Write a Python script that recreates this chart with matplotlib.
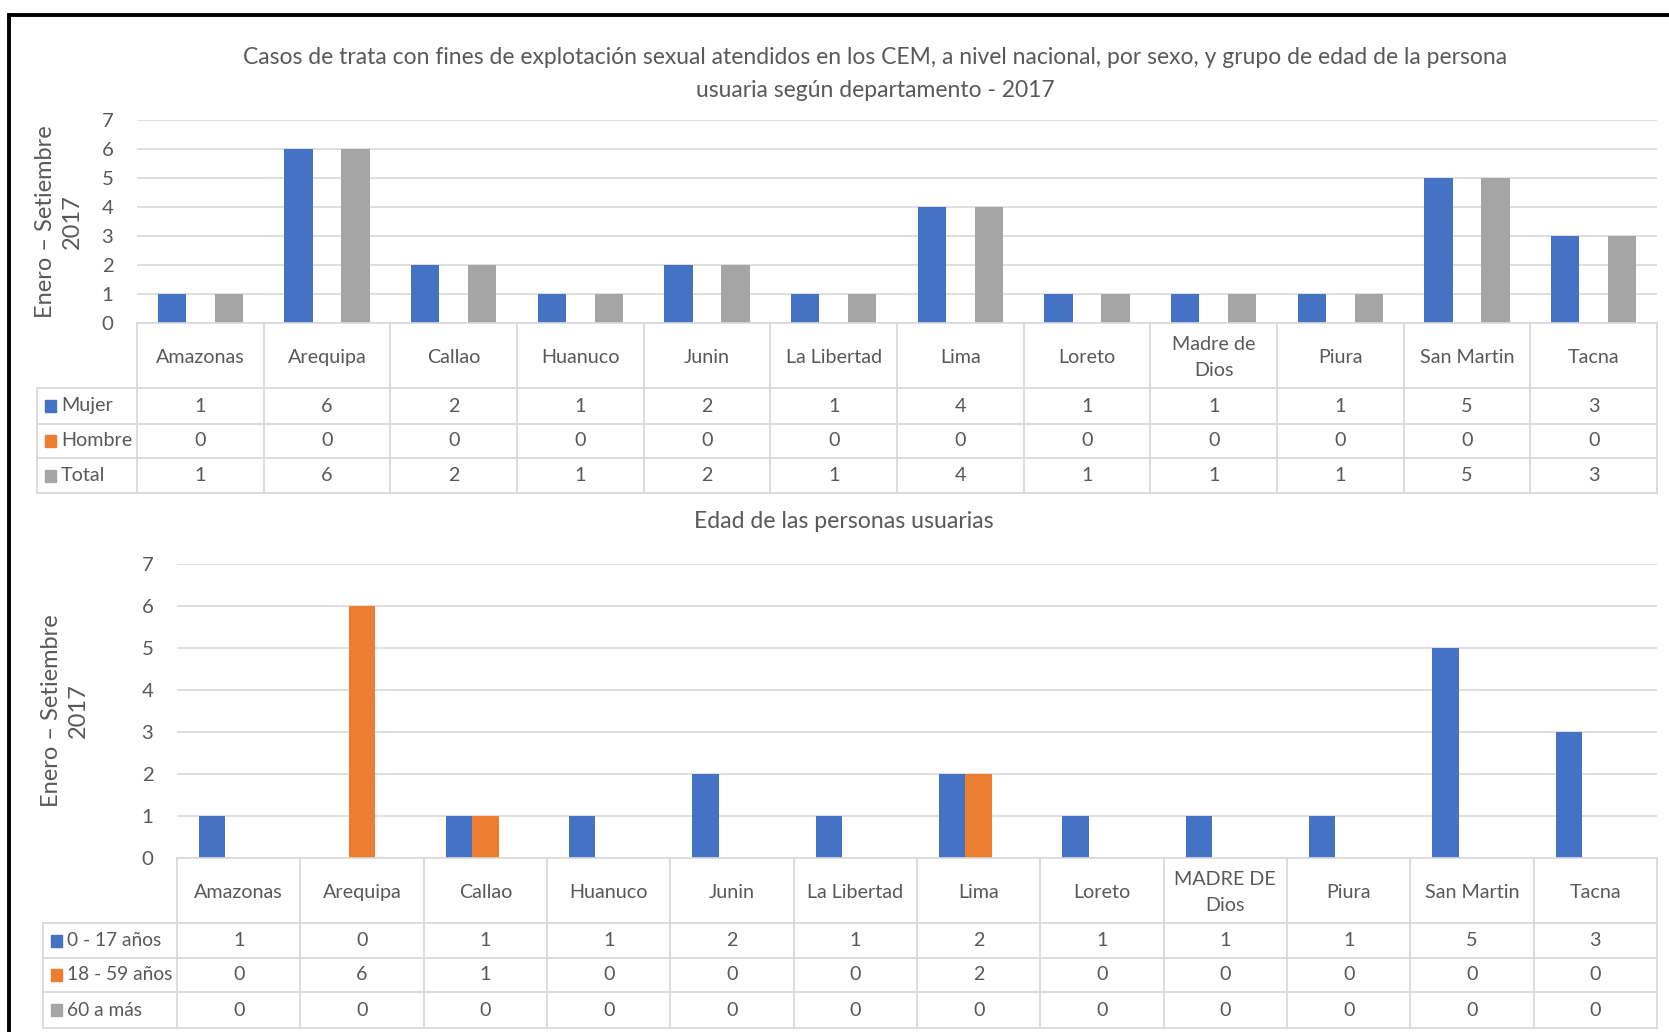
import matplotlib
matplotlib.use("Agg")
import matplotlib.pyplot as plt
from matplotlib.lines import Line2D
from matplotlib.patches import Rectangle
from matplotlib.transforms import blended_transform_factory

plt.rcParams['font.family'] = ['Lato', 'DejaVu Sans']

# datos
deptos_1 = ["Amazonas", "Arequipa", "Callao", "Huanuco", "Junin", "La Libertad",
            "Lima", "Loreto", "Madre de\nDios", "Piura", "San Martin", "Tacna"]
deptos_2 = ["Amazonas", "Arequipa", "Callao", "Huanuco", "Junin", "La Libertad",
            "Lima", "Loreto", "MADRE DE\nDios", "Piura", "San Martin", "Tacna"]

mujer = [1, 6, 2, 1, 2, 1, 4, 1, 1, 1, 5, 3]
hombre = [0, 0, 0, 0, 0, 0, 0, 0, 0, 0, 0, 0]
total = [1, 6, 2, 1, 2, 1, 4, 1, 1, 1, 5, 3]

edad_0_17 = [1, 0, 1, 1, 2, 1, 2, 1, 1, 1, 5, 3]
edad_18_59 = [0, 6, 1, 0, 0, 0, 2, 0, 0, 0, 0, 0]
edad_60 = [0, 0, 0, 0, 0, 0, 0, 0, 0, 0, 0, 0]

titulo = ("Casos de trata con fines de explotación sexual atendidos en los CEM, a nivel nacional, por sexo, y grupo de edad de la persona\n"
          "usuaria según departamento - 2017")
subtitulo = "Edad de las personas usuarias"
ylabel = "Enero – Setiembre\n2017"

AZUL = "#4472C4"
NARANJA = "#ED7D31"
GRIS = "#A5A5A5"
TXT = "#595959"
LINEA = "#D9D9D9"
FS = 14.2

W, H = 1669, 1032
fig = plt.figure(figsize=(W / 100, H / 100), dpi=100)


def fy(py):
    return 1 - py / H


def panel(left, right, top, bottom, cats, series, names, colors, width,
          rows, lab_left, sq_x, txt_x, ylab_x, lab_fs):
    ax = fig.add_axes([left / W, fy(bottom), (right - left) / W, (bottom - top) / H])
    n = len(cats)
    x = list(range(n))
    for k, (vals, col) in enumerate(zip(series, colors)):
        ax.bar([i + (k - 1) * width for i in x], vals, width=width, color=col)
    ax.set_xlim(-0.5, n - 0.5)
    ax.set_ylim(0, 7)
    ax.set_yticks(range(8))
    ax.yaxis.grid(True, color=LINEA, lw=1.2)
    ax.set_axisbelow(True)
    ax.set_xticks([])
    for s in ["top", "right", "left"]:
        ax.spines[s].set_visible(False)
    ax.spines["bottom"].set_color(LINEA)
    ax.spines["bottom"].set_linewidth(1.2)
    ax.tick_params(axis="y", length=0, pad=17, labelsize=FS + 0.5, labelcolor=TXT)

    cell = (right - left) / n
    tr = blended_transform_factory(ax.transData, fig.transFigure)

    def dx(px):
        return -0.5 + (px - left) / cell

    def hline(x0, x1, py):
        ax.add_artist(Line2D([x0, x1], [fy(py), fy(py)], transform=tr,
                             color=LINEA, lw=1.3, clip_on=False))

    def vline(xd, p0, p1):
        ax.add_artist(Line2D([xd, xd], [fy(p0), fy(p1)], transform=tr,
                             color=LINEA, lw=1.3, clip_on=False))

    # tabla
    for b in range(n + 1):
        vline(b - 0.5, rows[0], rows[-1])
    vline(dx(lab_left), rows[1], rows[-1])
    for py in rows[1:]:
        hline(dx(lab_left), n - 0.5, py)
    cy = (rows[0] + rows[1]) / 2 + 2
    for i, c in enumerate(cats):
        ax.text(i, fy(cy), c, transform=tr, ha="center", va="center",
                fontsize=FS, color=TXT, linespacing=1.6)
    for r, (vals, name, col) in enumerate(zip(series, names, colors)):
        ry = (rows[r + 1] + rows[r + 2]) / 2
        for i, v in enumerate(vals):
            ax.text(i, fy(ry), str(v), transform=tr, ha="center", va="center",
                    fontsize=FS, color=TXT)
        fig.add_artist(Rectangle((sq_x / W, fy(ry + 6)), 11 / W, 12 / H,
                                 transform=fig.transFigure, color=col))
        fig.text(txt_x / W, fy(ry), name, ha="left", va="center",
                 fontsize=lab_fs, color=TXT)
    fig.text(ylab_x / W, fy((top + bottom) / 2), ylabel, rotation=90,
             ha="center", va="center", fontsize=17, color=TXT,
             multialignment="center", linespacing=1.3)
    return ax


panel(137, 1657, 120, 323, deptos_1, [mujer, hombre, total],
      ["Mujer", "Hombre", "Total"], [AZUL, NARANJA, GRIS], 0.225,
      [323, 388, 424, 458, 493], 37, 45, 61, 59, FS)

panel(177, 1657, 564, 858, deptos_2, [edad_0_17, edad_18_59, edad_60],
      ["0 - 17 años", "18 - 59 años", "60 a más"], [AZUL, NARANJA, GRIS], 0.215,
      [858, 923, 958, 992, 1028], 43, 51, 67, 65, FS - 0.4)

fig.text(875 / W, fy(74), titulo, ha="center", va="center", fontsize=16.5,
         color=TXT, linespacing=1.7)
fig.text(844 / W, fy(522), subtitulo, ha="center", va="center", fontsize=16.6,
         color=TXT)

# marco negro
fig.add_artist(Line2D([8.5 / W, 1], [fy(15), fy(15)], transform=fig.transFigure,
                      color="black", lw=2.8))
fig.add_artist(Line2D([8.5 / W, 8.5 / W], [fy(15), 0], transform=fig.transFigure,
                      color="black", lw=2.8))

fig.savefig("out.png", dpi=100)
